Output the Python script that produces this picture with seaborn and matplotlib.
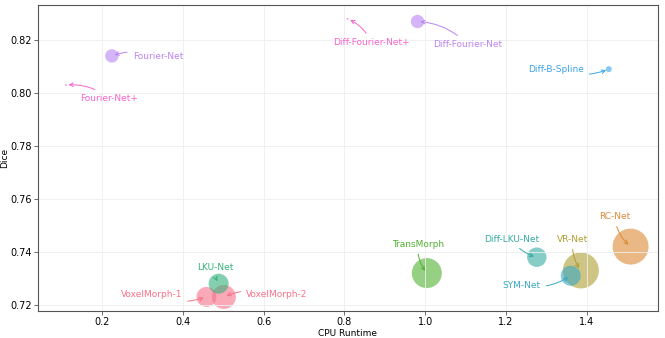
import numpy as np
import pandas as pd
import matplotlib
matplotlib.use("Agg")
import matplotlib.pyplot as plt
import seaborn as sns

# ── Data ──────────────────────────────────────────────────
models = ["VoxelMorph-1", "VoxelMorph-2", "RC-Net", "VR-Net", "TransMorph",
          "LKU-Net", "Diff-LKU-Net", "SYM-Net", "Diff-B-Spline",
          "Fourier-Net", "Diff-Fourier-Net", "Fourier-Net+", "Diff-Fourier-Net+"]
family = ["VoxelMorph", "VoxelMorph", "RC-Net", "VR-Net", "TransMorph",
          "LKU-Net", "Diff-LKU-Net", "SYM-Net", "Diff-B-Spline",
          "Fourier-Net", "Fourier-Net", "Fourier-Net+", "Fourier-Net+"]
runtime = [0.459, 0.502, 1.508, 1.385, 1.004,
           0.489, 1.276, 1.360, 1.454,
           0.225, 0.981, 0.111, 0.808]
dice = [0.723, 0.723, 0.742, 0.733, 0.732,
        0.728, 0.738, 0.731, 0.809,
        0.814, 0.827, 0.803, 0.828]
cost = [100, 144, 324, 324, 225,
        100, 95, 100, 9,
        45, 45, 1, 1]

family_order = ["VoxelMorph", "RC-Net", "VR-Net", "TransMorph", "LKU-Net",
                "Diff-LKU-Net", "SYM-Net", "Diff-B-Spline", "Fourier-Net",
                "Fourier-Net+"]
family_colors = ["#f77189", "#dc8932", "#ae9d31", "#50b131", "#33b07a",
                 "#36ada4", "#38a9c5", "#3ba3ec", "#bb83f4", "#f565cc"]

df = pd.DataFrame({"model": models, "family": family, "runtime": runtime,
                   "dice": dice, "cost": cost})

# label offsets in pixels (text centre relative to point)
label_offsets = {
    "VoxelMorph-1": (-55, 2), "VoxelMorph-2": (53, 2), "RC-Net": (-16, 30),
    "VR-Net": (-8, 31), "TransMorph": (-9, 29), "LKU-Net": (-3, 16),
    "Diff-LKU-Net": (-25, 18), "SYM-Net": (-49, -10), "Diff-B-Spline": (-53, 0),
    "Fourier-Net": (46, -1), "Diff-Fourier-Net": (50, -23),
    "Fourier-Net+": (43, -13), "Diff-Fourier-Net+": (24, -24),
}

palette = dict(zip(family_order, family_colors))

fig = plt.figure(figsize=(6.65, 3.38), dpi=100)
ax = fig.add_axes([0.057, 0.080, 0.932, 0.905])

sns.scatterplot(data=df, x="runtime", y="dice", hue="family",
                hue_order=family_order, palette=palette,
                size="cost", sizes=(2, 671), size_norm=(1, 324),
                alpha=0.6, edgecolor="none", legend=False, ax=ax, zorder=1)

for _, row in df.iterrows():
    col = palette[row["family"]]
    dx, dy = label_offsets[row["model"]]
    ax.annotate(row["model"], (row["runtime"], row["dice"]),
                xytext=(dx, dy), textcoords="offset pixels",
                ha="center", va="center", fontsize=6.5, color=col,
                arrowprops=dict(arrowstyle="->", color=col, lw=0.7,
                                connectionstyle="arc3,rad=0.2",
                                shrinkA=2, shrinkB=2))

ax.set_xlim(0.042, 1.575)
ax.set_ylim(0.7177, 0.8332)
ax.set_xticks([0.2, 0.4, 0.6, 0.8, 1.0, 1.2, 1.4])
ax.set_yticks([0.72, 0.74, 0.76, 0.78, 0.80, 0.82])
ax.set_xlabel("CPU Runtime", fontsize=6.5, labelpad=1)
ax.set_ylabel("Dice", fontsize=6.5, labelpad=1)
ax.tick_params(labelsize=7, length=3, width=0.6, color="#555555", pad=1.5)
ax.grid(True, color="#eeeeee", linewidth=0.6)
for s in ax.spines.values():
    s.set_color("#555555")
    s.set_linewidth(0.8)

plt.savefig("out.png", dpi=100)
